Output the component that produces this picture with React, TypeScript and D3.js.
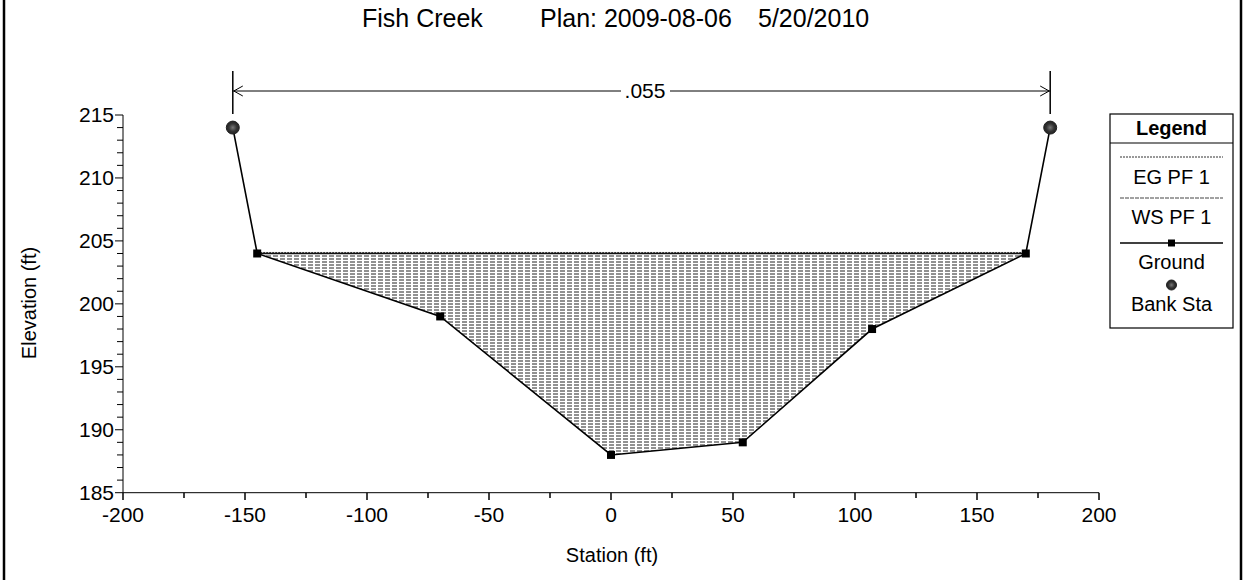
import React from "react";
import * as d3 from "d3";

// Ground profile (station, elevation)
const groundStations = [-155, -145, -70, 0, 54, 107, 170, 180];
const groundElevations = [214, 204, 199, 188, 189, 198, 204, 214];
const bankStations = [-155, 180];
const bankElevations = [214, 214];
const wsElevation = 204;
const egElevation = 204.08;
const manningN = ".055";
const xTicks = [-200, -150, -100, -50, 0, 50, 100, 150, 200];
const yTicks = [185, 190, 195, 200, 205, 210, 215];
const legendItems = ["EG PF 1", "WS PF 1", "Ground", "Bank Sta"];

const W = 1244;
const H = 580;
const FONT = "'Liberation Sans', Arial, sans-serif";

const App = () => {
  const x = d3.scaleLinear().domain([-200, 200]).range([123, 1099]);
  const y = d3.scaleLinear().domain([185, 215]).range([492.7, 115]);

  const ground = groundStations.map((s, i) => ({ x: s, y: groundElevations[i] }));

  // water polygon: ground points under the water surface
  const wet = ground.filter((d) => d.y <= wsElevation);
  const waterPoly = wet.map((d) => [x(d.x), y(d.y)]) as [number, number][];
  const waterPath = d3.line()(waterPoly) + "Z";
  const wsLeft = x(wet[0].x);
  const wsRight = x(wet[wet.length - 1].x);

  const groundLine = d3
    .line<{ x: number; y: number }>()
    .x((d) => x(d.x))
    .y((d) => y(d.y));

  const minorY = d3.range(185, 216, 1).filter((v) => v % 5 !== 0);
  const minorX = d3.range(-175, 200, 50);

  const nY = 91;
  const nLeft = x(bankStations[0]);
  const nRight = x(bankStations[1]);

  const legX = 1110;
  const legW = 123;
  const legCx = legX + legW / 2;

  return (
    <div style={{ position: "absolute", left: 0, top: 0 }}>
      <svg width={W} height={H} style={{ display: "block", background: "#fff" }}>
        <defs>
          <pattern id="water" width={7} height={3} patternUnits="userSpaceOnUse">
            <line x1={0} x2={7} y1={1} y2={1} stroke="#222" strokeWidth={1} strokeDasharray="5,2" />
          </pattern>
          <radialGradient id="bank">
            <stop offset="0%" stopColor="#777" />
            <stop offset="60%" stopColor="#333" />
            <stop offset="100%" stopColor="#222" />
          </radialGradient>
        </defs>

        {/* frame */}
        <line x1={4} x2={4} y1={0} y2={H} stroke="#000" strokeWidth={2.5} />
        <line x1={1241} x2={1241} y1={0} y2={H} stroke="#000" strokeWidth={2.5} />

        {/* title */}
        <text x={362} y={27} fontFamily={FONT} fontSize={25} fill="#000">
          Fish Creek
        </text>
        <text x={540} y={27} fontFamily={FONT} fontSize={25} fill="#000">
          Plan: 2009-08-06
        </text>
        <text x={758} y={27} fontFamily={FONT} fontSize={25} fill="#000">
          5/20/2010
        </text>

        {/* water fill */}
        <path d={waterPath} fill="url(#water)" stroke="none" />
        <line x1={wsLeft} x2={wsRight} y1={y(wsElevation)} y2={y(wsElevation)} stroke="#111" strokeWidth={1.5} />
        <line x1={wsLeft} x2={wsRight} y1={y(egElevation)} y2={y(egElevation)} stroke="#333" strokeWidth={1} strokeDasharray="2,1" />

        {/* ground */}
        <path d={groundLine(ground) || ""} fill="none" stroke="#000" strokeWidth={1.6} />
        {ground
          .filter((d) => !bankStations.includes(d.x))
          .map((d, i) => (
            <rect key={i} x={x(d.x) - 4} y={y(d.y) - 4} width={8} height={8} fill="#000" />
          ))}
        {bankStations.map((s, i) => (
          <circle key={i} cx={x(s)} cy={y(bankElevations[i])} r={6.5} fill="url(#bank)" stroke="#222" strokeWidth={1} />
        ))}

        {/* manning n */}
        <line x1={nLeft} x2={nLeft} y1={71} y2={114} stroke="#000" strokeWidth={1.5} />
        <line x1={nRight} x2={nRight} y1={71} y2={114} stroke="#000" strokeWidth={1.5} />
        <line x1={nLeft} x2={nRight} y1={nY} y2={nY} stroke="#000" strokeWidth={1} />
        <path d={`M${nLeft + 10},${nY - 5}L${nLeft + 1},${nY}L${nLeft + 10},${nY + 5}`} fill="none" stroke="#000" strokeWidth={1} />
        <path d={`M${nRight - 10},${nY - 5}L${nRight - 1},${nY}L${nRight - 10},${nY + 5}`} fill="none" stroke="#000" strokeWidth={1} />
        <rect x={621} y={nY - 10} width={49} height={20} fill="#fff" />
        <text x={645} y={nY + 7} textAnchor="middle" fontFamily={FONT} fontSize={21} fill="#000">
          {manningN}
        </text>

        {/* y axis */}
        <line x1={123} x2={123} y1={y(215)} y2={y(185)} stroke="#000" strokeWidth={1} />
        {minorY.map((v) => (
          <line key={v} x1={117} x2={123} y1={y(v)} y2={y(v)} stroke="#000" strokeWidth={1} />
        ))}
        {yTicks.map((v) => (
          <g key={v}>
            <line x1={115} x2={123} y1={y(v)} y2={y(v)} stroke="#000" strokeWidth={1} />
            <text x={114} y={y(v) + 7} textAnchor="end" fontFamily={FONT} fontSize={21} fill="#000">
              {v}
            </text>
          </g>
        ))}

        {/* x axis */}
        <line x1={x(-200)} x2={x(200)} y1={492.7} y2={492.7} stroke="#000" strokeWidth={1} />
        {minorX.map((v) => (
          <line key={v} x1={x(v)} x2={x(v)} y1={492.7} y2={498} stroke="#000" strokeWidth={1.5} />
        ))}
        {xTicks.map((v) => (
          <g key={v}>
            <line x1={x(v)} x2={x(v)} y1={492.7} y2={500} stroke="#000" strokeWidth={1.5} />
            <text x={x(v)} y={522} textAnchor="middle" fontFamily={FONT} fontSize={21} fill="#000">
              {v}
            </text>
          </g>
        ))}

        {/* axis titles */}
        <text x={612} y={562} textAnchor="middle" fontFamily={FONT} fontSize={20} fill="#000">
          Station (ft)
        </text>
        <text
          transform={`translate(36,303) rotate(-90)`}
          textAnchor="middle"
          fontFamily={FONT}
          fontSize={20}
          fill="#000"
        >
          Elevation (ft)
        </text>

        {/* legend */}
        <rect x={legX} y={114} width={legW} height={214} fill="#fff" stroke="#000" strokeWidth={1.2} />
        <line x1={legX} x2={legX + legW} y1={143} y2={143} stroke="#000" strokeWidth={1.2} />
        <text x={legCx} y={135} textAnchor="middle" fontFamily={FONT} fontSize={20} fontWeight="bold" fill="#000">
          Legend
        </text>
        <line x1={legX + 10} x2={legX + legW - 10} y1={157} y2={157} stroke="#333" strokeWidth={1} strokeDasharray="2,1" />
        <text x={legCx} y={184} textAnchor="middle" fontFamily={FONT} fontSize={20} fill="#000">
          {legendItems[0]}
        </text>
        <line x1={legX + 10} x2={legX + legW - 10} y1={198} y2={198} stroke="#444" strokeWidth={1} strokeDasharray="4,1" />
        <text x={legCx} y={224} textAnchor="middle" fontFamily={FONT} fontSize={20} fill="#000">
          {legendItems[1]}
        </text>
        <line x1={legX + 10} x2={legX + legW - 10} y1={243} y2={243} stroke="#000" strokeWidth={1.6} />
        <rect x={legCx - 3.5} y={239.5} width={7} height={7} fill="#000" />
        <text x={legCx} y={269} textAnchor="middle" fontFamily={FONT} fontSize={20} fill="#000">
          {legendItems[2]}
        </text>
        <circle cx={legCx} cy={285} r={5} fill="url(#bank)" stroke="#222" strokeWidth={1} />
        <text x={legCx} y={311} textAnchor="middle" fontFamily={FONT} fontSize={20} fill="#000">
          {legendItems[3]}
        </text>
      </svg>
    </div>
  );
};

export default App;
